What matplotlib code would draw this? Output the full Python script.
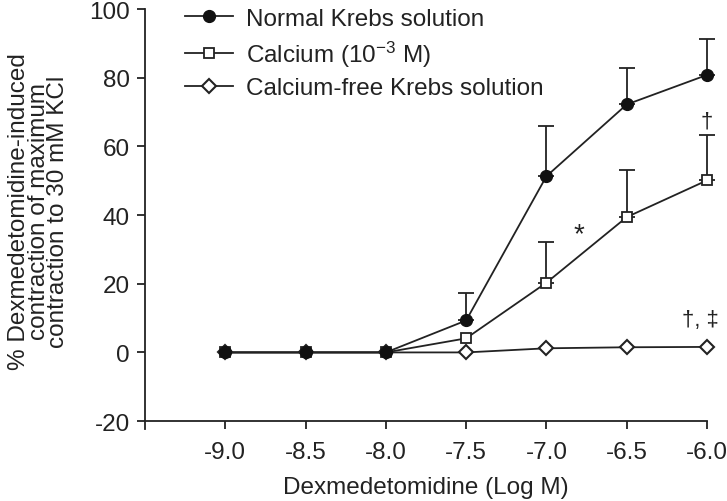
import matplotlib
matplotlib.use("Agg")
import matplotlib.pyplot as plt
import numpy as np

plt.rcParams['font.family'] = ['Liberation Sans', 'DejaVu Sans']
plt.rcParams['axes.unicode_minus'] = False
plt.rcParams['mathtext.fontset'] = 'custom'
plt.rcParams['mathtext.rm'] = 'Liberation Sans'
plt.rcParams['mathtext.it'] = 'Liberation Sans:italic'
plt.rcParams['mathtext.bf'] = 'Liberation Sans:bold'

log_conc = [-9.0, -8.5, -8.0, -7.5, -7.0, -6.5, -6.0]
xtick_labels = ['-9.0', '-8.5', '-8.0', '-7.5', '-7.0', '-6.5', '-6.0']

normal = [0, 0, 0, 9.3, 51.3, 72.2, 80.8]
normal_err = [0, 0, 0, 8.1, 14.5, 10.6, 10.4]

calcium = [0, 0, 0, 4.1, 20.3, 39.4, 50.1]
calcium_err = [0, 0, 0, 0, 11.9, 13.8, 13.2]

ca_free = [0, 0, 0, 0, 1.2, 1.5, 1.6]

labels = ['Normal Krebs solution', 'Calcium (10$^{\\mathrm{-3}}$ M)', 'Calcium-free Krebs solution']

fig = plt.figure(figsize=(7.27, 5.02), dpi=100)
ax = fig.add_axes([145/727, 1 - 430/502, (707-145)/727, (430-10)/502])

lw = 1.3
col = '#222222'
x = np.array(log_conc)

def up_err(vals, errs):
    v = np.array(vals, float); e = np.array(errs, float)
    m = e > 0
    ax.errorbar(x[m], v[m], yerr=[np.zeros(m.sum()), e[m]], fmt='none',
                ecolor=col, elinewidth=lw, capsize=6, capthick=lw, zorder=1,
                clip_on=False)

up_err(normal, normal_err)
up_err(calcium, calcium_err)

ax.plot(x, ca_free, '-', color=col, lw=lw, marker='D', markersize=7.5,
        markerfacecolor='white', markeredgecolor=col, markeredgewidth=1.5,
        label=labels[2], zorder=2, clip_on=False)
ax.plot(x, calcium, '-', color=col, lw=lw, marker='s', markersize=6.5,
        markerfacecolor='white', markeredgecolor=col, markeredgewidth=1.3,
        label=labels[1], zorder=3, clip_on=False)
ax.plot(x, normal, '-', color=col, lw=lw, marker='o', markersize=8.5,
        markerfacecolor='#111111', markeredgecolor='#111111',
        label=labels[0], zorder=4, clip_on=False)

ax.text(-6.80, 34.5, '*', fontsize=20, ha='center', va='center', color=col)
ax.text(-6.0, 67.5, '\u2020', fontsize=16, ha='center', va='center', color=col)
ax.text(-6.04, 9.5, '\u2020, \u2021', fontsize=16, ha='center', va='center', color=col)

ax.set_xlim(-9.5, -6.0)
ax.set_ylim(-22.3, 100)
ax.set_xticks(log_conc)
ax.set_xticklabels(xtick_labels)
ax.set_yticks([-20, 0, 20, 40, 60, 80, 100])
ax.spines['top'].set_visible(False)
ax.spines['right'].set_visible(False)
ax.spines['bottom'].set_position(('data', -20))
for s in ['left', 'bottom']:
    ax.spines[s].set_linewidth(1.3)
    ax.spines[s].set_color(col)
ax.tick_params(direction='out', length=6, width=1.3, colors=col,
               labelsize=17.5, labelcolor=col)
ax.tick_params(axis='x', pad=8)
ax.tick_params(axis='y', pad=5)

ax.set_xlabel('Dexmedetomidine (Log M)', fontsize=17.5, color=col, labelpad=10)
ax.set_ylabel('% Dexmedetomidine-induced\ncontraction of maximum\ncontraction to 30 mM KCl',
              fontsize=17.5, color=col, linespacing=0.85)
ax.yaxis.set_label_coords(-0.135, 0.52)

h, l = ax.get_legend_handles_labels()
order = [2, 1, 0]
leg = ax.legend([h[i] for i in order], [l[i] for i in order], loc='upper left',
                bbox_to_anchor=(0.053, 1.026), frameon=False, fontsize=17.5,
                handlelength=2.0, handletextpad=0.55, labelspacing=0.35,
                borderaxespad=0)
for t in leg.get_texts():
    t.set_color(col)

fig.savefig('out.png', dpi=100)
